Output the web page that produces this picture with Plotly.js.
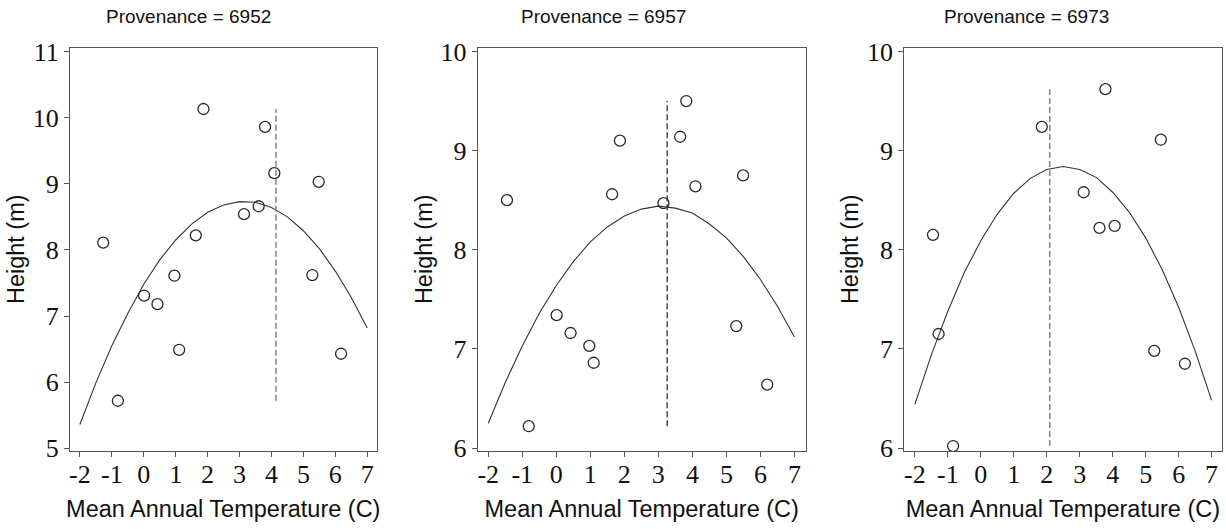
<!DOCTYPE html>
<html>
<head>
<meta charset="utf-8">
<script src="https://cdn.plot.ly/plotly-3.0.1.min.js"></script>
<style>
  html, body { margin: 0; padding: 0; background: #ffffff; }
  #chart { width: 1226px; height: 529px; }
</style>
</head>
<body>
<div id="chart"></div>
<script>
// ---------- data ----------
const provenances = ["6952", "6957", "6973"];

const temp6952   = [-1.27, -0.81, 0.01, 0.43, 0.96, 1.11, 1.63, 1.87, 3.14, 3.60, 3.80, 4.09, 5.28, 5.48, 6.18];
const height6952 = [ 8.11,  5.72, 7.31, 7.18, 7.61, 6.49, 8.22, 10.13, 8.54, 8.66, 9.86, 9.16, 7.62, 9.03, 6.43];

const temp6957   = [-1.45, -0.81, 0.01, 0.42, 0.97, 1.10, 1.64, 1.87, 3.15, 3.64, 3.82, 4.09, 5.29, 5.49, 6.20];
const height6957 = [ 8.50,  6.22, 7.34, 7.16, 7.03, 6.86, 8.56, 9.10, 8.47, 9.14, 9.50, 8.64, 7.23, 8.75, 6.64];

const temp6973   = [-1.45, -1.28, -0.84, 1.85, 3.12, 3.60, 4.06, 3.78, 5.46, 5.26, 6.19];
const height6973 = [ 8.15,  7.15,  6.02, 9.24, 8.58, 8.22, 8.24, 9.62, 9.11, 6.98, 6.85];

// fitted quadratic curves, read along the temperature axis
const curveTemp = [-2, -1.5, -1, -0.5, 0, 0.5, 1, 1.5, 2, 2.5, 3, 3.5, 4, 4.5, 5, 5.5, 6, 6.5, 7];
const fit6952   = [5.36, 5.99, 6.55, 7.04, 7.48, 7.85, 8.15, 8.39, 8.57, 8.68, 8.73, 8.72, 8.64, 8.50, 8.29, 8.02, 7.68, 7.28, 6.82];
const fit6957   = [6.25, 6.66, 7.03, 7.36, 7.64, 7.88, 8.08, 8.23, 8.34, 8.41, 8.44, 8.42, 8.37, 8.26, 8.12, 7.93, 7.70, 7.43, 7.12];
const fit6973   = [6.44, 6.94, 7.38, 7.77, 8.09, 8.36, 8.57, 8.72, 8.81, 8.84, 8.81, 8.73, 8.58, 8.38, 8.12, 7.80, 7.42, 6.98, 6.48];

// dashed reference lines (temperature, and height span)
const refTemp   = [4.14, 3.26, 2.09];
const refLow    = [5.72, 6.22, 6.02];
const refHigh   = [10.13, 9.50, 9.62];

// tick labels
const xTickVals  = [-2, -1, 0, 1, 2, 3, 4, 5, 6, 7];
const xTickText  = ["-2", "-1", "0", "1", "2", "3", "4", "5", "6", "7"];
const yTicks6952 = [5, 6, 7, 8, 9, 10, 11];
const yTicks6957 = [6, 7, 8, 9, 10];
const yTicks6973 = [6, 7, 8, 9, 10];

const xTitle = "Mean Annual Temperature (C)";
const yTitle = "Height (m)";

// ---------- build ----------
(function () {
  const temps   = [temp6952, temp6957, temp6973];
  const heights = [height6952, height6957, height6973];
  const fits    = [fit6952, fit6957, fit6973];
  const yTicks  = [yTicks6952, yTicks6957, yTicks6973];
  const dashColors = ["#8a8a8a", "#555555", "#8a8a8a"];

  const W = 1226, H = 529;
  const frames = [
    {l: 70,    r: 376.5,  xr: [-2.31, 7.29], yr: [4.96, 11.06]},
    {l: 477.7, r: 805.7,  xr: [-2.31, 7.33], yr: [5.97, 10.04]},
    {l: 904.3, r: 1221.5, xr: [-2.32, 7.30], yr: [5.97, 10.04]}
  ];
  const frameTop = 47.5, frameBottom = 451;
  const titleCenters = [188.7, 603.8, 1026.7];

  const traces = [];
  const layout = {
    width: W, height: H,
    margin: {l: 0, r: 0, t: 0, b: 0},
    paper_bgcolor: "#ffffff",
    plot_bgcolor: "#ffffff",
    showlegend: false,
    annotations: []
  };

  for (let i = 0; i < 3; i++) {
    const sfx = i === 0 ? "" : String(i + 1);
    const xa = "x" + sfx, ya = "y" + sfx;

    traces.push({
      type: "scatter", mode: "lines", xaxis: xa, yaxis: ya,
      x: curveTemp, y: fits[i],
      line: {color: "#333333", width: 1.1},
      hoverinfo: "skip"
    });
    traces.push({
      type: "scatter", mode: "lines", xaxis: xa, yaxis: ya,
      x: [refTemp[i], refTemp[i]], y: [refLow[i], refHigh[i]],
      line: {color: dashColors[i], width: 1.6, dash: "6px,3px"},
      hoverinfo: "skip"
    });
    traces.push({
      type: "scatter", mode: "markers", xaxis: xa, yaxis: ya,
      x: temps[i], y: heights[i],
      marker: {symbol: "circle-open", size: 11, color: "#2a2a2a", line: {width: 1.3}}
    });

    const f = frames[i];
    layout["xaxis" + sfx] = {
      domain: [f.l / W, f.r / W],
      anchor: ya,
      range: f.xr,
      tickmode: "array", tickvals: xTickVals, ticktext: xTickText,
      ticks: "outside", ticklen: 5, tickwidth: 1, tickcolor: "#555555",
      ticklabelstandoff: -5,
      showline: true, linecolor: "#555555", linewidth: 1, mirror: true,
      showgrid: false, zeroline: false,
      tickfont: {family: "Liberation Serif, serif", size: 26, color: "#111111"},
      title: {text: xTitle, font: {family: "Liberation Sans, Arial, sans-serif", size: 23.5, color: "#111111"}, standoff: 12}
    };
    layout["yaxis" + sfx] = {
      domain: [1 - frameBottom / H, 1 - frameTop / H],
      anchor: xa,
      range: f.yr,
      tickmode: "array", tickvals: yTicks[i], ticktext: yTicks[i].map(String),
      ticks: "outside", ticklen: 5, tickwidth: 1, tickcolor: "#555555",
      showline: true, linecolor: "#555555", linewidth: 1, mirror: true,
      showgrid: false, zeroline: false,
      tickfont: {family: "Liberation Serif, serif", size: 26, color: "#111111"},
      title: {text: yTitle, font: {family: "Liberation Sans, Arial, sans-serif", size: 23.5, color: "#111111"}, standoff: 1}
    };

    layout.annotations.push({
      xref: "paper", yref: "paper",
      x: titleCenters[i] / W, y: 1 - 17 / H,
      xanchor: "center", yanchor: "middle",
      showarrow: false,
      text: "Provenance = " + provenances[i],
      font: {family: "Liberation Sans, Arial, sans-serif", size: 19, color: "#111111"}
    });
  }

  Plotly.newPlot("chart", traces, layout, {staticPlot: true, displayModeBar: false});
})();
</script>
</body>
</html>
